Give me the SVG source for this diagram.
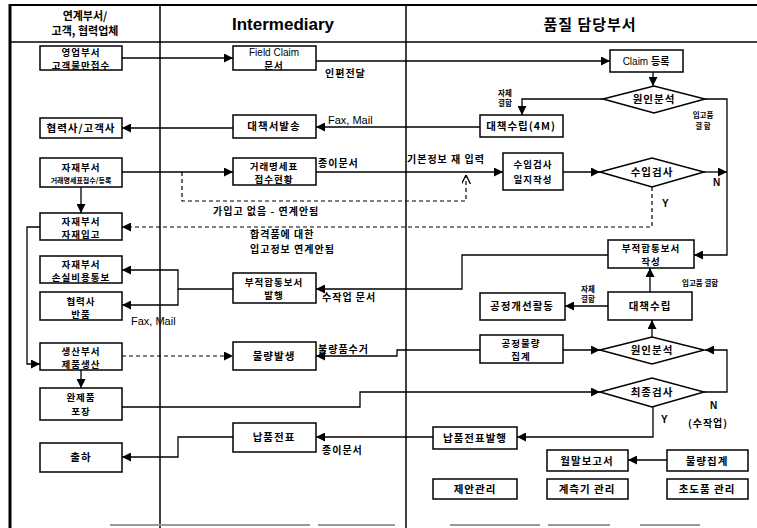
<svg xmlns="http://www.w3.org/2000/svg" width="757" height="528" viewBox="0 0 757 528">
<defs>
<style>
.frame{stroke:#000;fill:none}
.box{fill:#fff;stroke:#000;stroke-width:1.5}
.dia{fill:#fff;stroke:#000;stroke-width:1.5}
.t{font-family:"Noto Sans CJK KR","Noto Sans",sans-serif;font-weight:bold;font-size:10.5px;text-anchor:middle;fill:#000;letter-spacing:1px}
.t2{font-family:"Noto Sans CJK KR","Noto Sans",sans-serif;font-weight:bold;font-size:9.5px;text-anchor:middle;fill:#000;letter-spacing:1px}
.ts{font-family:"Noto Sans CJK KR","Noto Sans",sans-serif;font-weight:bold;font-size:7px;text-anchor:middle;fill:#000}
.en{font-family:"Liberation Sans",Arial,sans-serif;font-size:10px;text-anchor:middle;fill:#000}
.lb{font-family:"Noto Sans CJK KR","Noto Sans",sans-serif;font-weight:bold;font-size:10px;fill:#000;letter-spacing:1px}
.lbs{font-family:"Noto Sans CJK KR","Noto Sans",sans-serif;font-weight:bold;font-size:7.5px;fill:#000;text-anchor:middle}
.yn{font-family:"Liberation Sans",Arial,sans-serif;font-weight:bold;font-size:10px;fill:#000}
.hd{font-family:"Noto Sans CJK KR","Noto Sans",sans-serif;font-weight:bold;font-size:11px;text-anchor:middle;fill:#000}
.c{fill:none;stroke:#000;stroke-width:1.3}
.d{fill:none;stroke:#000;stroke-width:1.2;stroke-dasharray:4 3}
</style>
<marker id="ah" viewBox="0 0 10 10" refX="10" refY="5" markerWidth="10" markerHeight="9" markerUnits="userSpaceOnUse" orient="auto">
<path d="M0,0 L10,5 L0,10 z" fill="#000"/>
</marker>
<marker id="ao" viewBox="0 0 10 10" refX="10" refY="5" markerWidth="9" markerHeight="9" markerUnits="userSpaceOnUse" orient="auto">
<path d="M0,0 L10,5 L0,10" fill="none" stroke="#000" stroke-width="1.5"/>
</marker>
</defs>
<rect width="757" height="528" fill="#fff"/>

<g id="frame">
<line class="frame" x1="10" y1="5" x2="757" y2="5" stroke-width="2"/>
<line class="frame" x1="10" y1="42" x2="757" y2="42" stroke-width="1.5"/>
<line class="frame" x1="10" y1="4" x2="10" y2="528" stroke-width="3"/>
<line class="frame" x1="160" y1="5" x2="160" y2="528" stroke-width="1.5"/>
<line class="frame" x1="406" y1="5" x2="406" y2="528" stroke-width="1.5"/>
<g stroke="#999" stroke-width="2">
<line x1="110" y1="525" x2="310" y2="525"/>
<line x1="318" y1="525" x2="395" y2="525"/>
<line x1="450" y1="525" x2="540" y2="525"/>
<line x1="548" y1="525" x2="610" y2="525"/>
<line x1="640" y1="525" x2="700" y2="525"/>
</g>
<text class="hd" x="85" y="20">연계부서/</text>
<text class="hd" x="85" y="35">고객, 협력업체</text>
<text x="283" y="30" font-family="Liberation Sans,Arial,sans-serif" font-weight="bold" font-size="17" text-anchor="middle">Intermediary</text>
<text x="590" y="30" font-family="Noto Sans CJK KR,sans-serif" font-weight="bold" font-size="15" text-anchor="middle" letter-spacing="1">품질 담당부서</text>
</g>

<g id="connectors">
<path class="c" d="M122,58 H233" marker-end="url(#ah)"/>
<path class="c" d="M316,61 H610" marker-end="url(#ah)"/>
<path class="c" d="M653,72 V86" marker-end="url(#ah)"/>
<path class="c" d="M603,99 H522 V115" marker-end="url(#ah)"/>
<path class="c" d="M705,99 H727 V255 H694" marker-end="url(#ah)"/>
<path class="c" d="M480,127 H316" marker-end="url(#ah)"/>
<path class="c" d="M233,128 H122" marker-end="url(#ah)"/>
<path class="c" d="M122,172 H233" marker-end="url(#ah)"/>
<path class="d" d="M182,172 V201 H466 V175" marker-end="url(#ao)"/>
<path class="c" d="M316,172 H503" marker-end="url(#ah)"/>
<path class="c" d="M563,172 H600" marker-end="url(#ah)"/>
<path class="c" d="M704,172 H727" marker-end="url(#ah)"/>
<path class="d" d="M652,187 V227 H122" marker-end="url(#ah)"/>
<path class="c" d="M81,187 V213" marker-end="url(#ah)"/>
<path class="c" d="M40,227 H27 V364 H40" marker-end="url(#ah)"/>
<path class="c" d="M608,255 H462 V289 H316" marker-end="url(#ah)"/>
<path class="c" d="M233,289 H178 V270 H122" marker-end="url(#ah)"/>
<path class="c" d="M178,289 V305 H122" marker-end="url(#ah)"/>
<path class="c" d="M650,292 V268" marker-end="url(#ah)"/>
<path class="c" d="M608,306 H565" marker-end="url(#ah)"/>
<path class="c" d="M652,337 V320" marker-end="url(#ah)"/>
<path class="c" d="M563,350 H600" marker-end="url(#ah)"/>
<path class="c" d="M480,350 H397 V356 H316" marker-end="url(#ah)"/>
<path class="d" d="M122,356 H233" marker-end="url(#ah)"/>
<path class="c" d="M81,370 V388" marker-end="url(#ah)"/>
<path class="c" d="M122,407 H360 V392 H600" marker-end="url(#ah)"/>
<path class="c" d="M704,392 H727 V350 H705" marker-end="url(#ah)"/>
<path class="c" d="M653,407 V437 H517" marker-end="url(#ah)"/>
<path class="c" d="M433,437 H316" marker-end="url(#ah)"/>
<path class="c" d="M233,437 H178 V457 H122" marker-end="url(#ah)"/>
<path class="c" d="M667,460 H628" marker-end="url(#ah)"/>
<text class="lb" x="325" y="77">인편전달</text>
<text class="lbs" x="505" y="96">자체</text>
<text class="lbs" x="505" y="106">결함</text>
<text class="lbs" x="703" y="118">입고품</text>
<text class="lbs" x="703" y="129">결  함</text>
<text x="328" y="124" font-family="Liberation Sans,Arial,sans-serif" font-size="11">Fax, Mail</text>
<text class="lb" x="318" y="167">종이문서</text>
<text class="lb" x="407" y="163">기본정보 재 입력</text>
<text class="yn" x="713" y="186">N</text>
<text class="lb" x="213" y="215">가입고 없음 - 연계안됨</text>
<text class="yn" x="662" y="207">Y</text>
<text class="lb" x="250" y="238">합격품에 대한</text>
<text class="lb" x="250" y="253">입고정보 연계안됨</text>
<text class="lb" x="322" y="301">수작업 문서</text>
<text x="131" y="325" font-family="Liberation Sans,Arial,sans-serif" font-size="11">Fax, Mail</text>
<text class="lbs" x="682" y="286" style="text-anchor:start">입고품 결함</text>
<text class="lbs" x="588" y="292">자체</text>
<text class="lbs" x="588" y="302">결함</text>
<text class="lb" x="318" y="353">불량품수거</text>
<text class="yn" x="710" y="409">N</text>
<text class="yn" x="661" y="423">Y</text>
<text class="lb" x="322" y="454">종이문서</text>
<text class="lb" x="708" y="427" text-anchor="middle">(수작업)</text>
</g>

<g id="n_sales"><rect class="box" x="40" y="46" width="82" height="24"/><text class="t2" x="81" y="56" font-size="9px">영업부서</text><text class="t2" x="81" y="68.5" font-size="9px">고객불만접수</text></g>
<g id="n_partner_cust"><rect class="box" x="40" y="118" width="82" height="20"/><text class="t" x="81" y="132">협력사/고객사</text></g>
<g id="n_mat1"><rect class="box" x="40" y="158" width="82" height="29"/><text class="t2" x="81" y="171">자재부서</text><text class="ts" x="81" y="183">거래명세표접수/등록</text></g>
<g id="n_mat2"><rect class="box" x="40" y="213" width="82" height="27"/><text class="t2" x="81" y="225">자재부서</text><text class="t2" x="81" y="238">자재입고</text></g>
<g id="n_mat3"><rect class="box" x="40" y="256" width="82" height="27"/><text class="t2" x="81" y="268">자재부서</text><text class="t2" x="81" y="281">손실비용통보</text></g>
<g id="n_partner_ret"><rect class="box" x="40" y="292" width="82" height="28"/><text class="t2" x="81" y="304.5">협력사</text><text class="t2" x="81" y="317.5">반품</text></g>
<g id="n_prod"><rect class="box" x="40" y="343" width="82" height="27"/><text class="t2" x="81" y="355">생산부서</text><text class="t2" x="81" y="368">제품생산</text></g>
<g id="n_pack"><rect class="box" x="40" y="388" width="82" height="32"/><text class="t2" x="81" y="401">완제품</text><text class="t2" x="81" y="415">포장</text></g>
<g id="n_ship"><rect class="box" x="40" y="443" width="82" height="29"/><text class="t" x="81" y="461">출하</text></g>

<g id="n_fc"><rect class="box" x="233" y="46" width="83" height="24"/><text class="en" x="274" y="56">Field Claim</text><text class="t2" x="274" y="68.5" font-size="9px">문서</text></g>
<g id="n_send"><rect class="box" x="233" y="115" width="83" height="23"/><text class="t" x="274" y="130">대책서발송</text></g>
<g id="n_inv"><rect class="box" x="233" y="158" width="83" height="27"/><text class="t2" x="274" y="170">거래명세표</text><text class="t2" x="274" y="183">접수현황</text></g>
<g id="n_ncr_issue"><rect class="box" x="233" y="273" width="83" height="30"/><text class="t2" x="274" y="285.5">부적합통보서</text><text class="t2" x="274" y="299">발행</text></g>
<g id="n_defect"><rect class="box" x="233" y="342" width="83" height="28"/><text class="t" x="274" y="360">불량발생</text></g>
<g id="n_slip"><rect class="box" x="233" y="423" width="83" height="29"/><text class="t" x="274" y="441">납품전표</text></g>

<g id="n_claim"><rect class="box" x="610" y="50" width="73" height="22"/><text class="en" x="646" y="65">Claim <tspan font-family="Noto Sans CJK KR,sans-serif" font-weight="bold">등록</tspan></text></g>
<g id="d_cause1"><polygon class="dia" points="603,99 654,86 705,99 654,113"/><text class="t" x="654" y="103">원인분석</text></g>
<g id="n_plan4m"><rect class="box" x="480" y="115" width="83" height="22"/><text class="t" x="521" y="130">대책수립(4M)</text></g>
<g id="n_inspect_log"><rect class="box" x="503" y="153" width="60" height="37"/><text class="t2" x="533" y="168">수입검사</text><text class="t2" x="533" y="183">일지작성</text></g>
<g id="d_inspect"><polygon class="dia" points="600,172 652,158 704,172 652,187"/><text class="t" x="652" y="176">수입검사</text></g>
<g id="n_ncr_write"><rect class="box" x="608" y="240" width="86" height="28"/><text class="t2" x="651" y="252">부적합통보서</text><text class="t2" x="651" y="265">작성</text></g>
<g id="n_plan"><rect class="box" x="608" y="292" width="84" height="28"/><text class="t" x="650" y="310">대책수립</text></g>
<g id="n_improve"><rect class="box" x="480" y="293" width="85" height="27"/><text class="t" x="522" y="310">공정개선활동</text></g>
<g id="n_defagg"><rect class="box" x="480" y="335" width="83" height="28"/><text class="t2" x="521" y="347">공정불량</text><text class="t2" x="521" y="360">집계</text></g>
<g id="d_cause2"><polygon class="dia" points="600,350 652,337 704,350 652,364"/><text class="t" x="652" y="354">원인분석</text></g>
<g id="d_final"><polygon class="dia" points="600,392 652,378 704,392 652,407"/><text class="t" x="652" y="396">최종검사</text></g>
<g id="n_slip_issue"><rect class="box" x="433" y="427" width="84" height="22"/><text class="t" x="475" y="442">납품전표발행</text></g>
<g id="n_month"><rect class="box" x="547" y="450" width="81" height="21"/><text class="t" x="587" y="465">월말보고서</text></g>
<g id="n_defsum"><rect class="box" x="667" y="450" width="81" height="21"/><text class="t" x="707" y="465">불량집계</text></g>
<g id="n_suggest"><rect class="box" x="433" y="479" width="84" height="20"/><text class="t" x="475" y="493">제안관리</text></g>
<g id="n_gauge"><rect class="box" x="547" y="479" width="81" height="20"/><text class="t" x="587" y="493">계측기 관리</text></g>
<g id="n_first"><rect class="box" x="667" y="479" width="81" height="20"/><text class="t" x="707" y="493">초도품 관리</text></g>
</svg>
